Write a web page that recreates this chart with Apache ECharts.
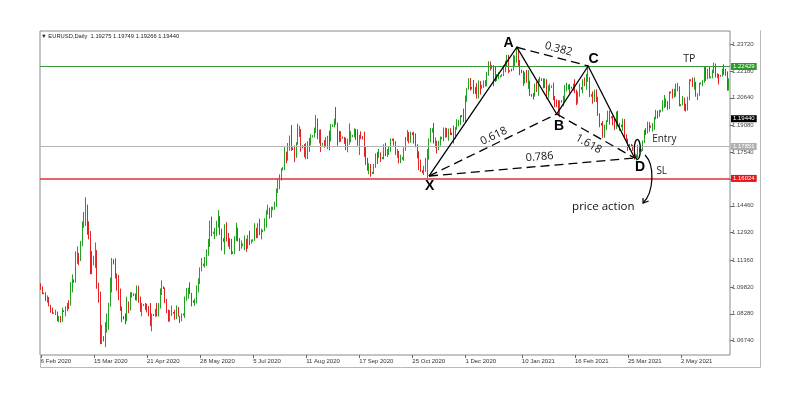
<!DOCTYPE html>
<html>
<head>
<meta charset="utf-8">
<script src="https://cdn.jsdelivr.net/npm/echarts/dist/echarts.min.js"></script>
<style>
  html, body { margin: 0; padding: 0; background: #ffffff; }
  #chart { width: 800px; height: 398px; }
</style>
</head>
<body>
<div id="chart"></div>
<script>
// ---------------- DATA ----------------
const symbolName = 'EURUSD';
const timeframe = 'Daily';
const headerValues = ['1.19275', '1.19749', '1.19266', '1.19440'];

// Daily bars (Sun–Fri) starting 6 Feb 2020
const firstBarDate = [2020, 1, 6];
const barCount = 416;

const xTickDates = ['6 Feb 2020', '15 Mar 2020', '21 Apr 2020', '28 May 2020', '5 Jul 2020', '11 Aug 2020',
  '17 Sep 2020', '25 Oct 2020', '1 Dec 2020', '10 Jan 2021', '16 Feb 2021', '25 Mar 2021', '2 May 2021'];
const yTickLabels = ['1.06740', '1.08280', '1.09820', '1.11360', '1.12920', '1.14460', '1.16000',
  '1.17540', '1.19080', '1.20640', '1.22180', '1.23720'];

const opens = [
 1.0996,1.0980,
 1.0942,1.0946,1.0910,1.0916,1.0874,1.0840,
 1.0830,1.0832,1.0835,1.0791,1.0806,1.0787,
 1.0845,1.0842,1.0852,1.0883,1.0881,1.0998,
 1.1020,1.1010,1.1136,1.1174,1.1135,1.1237,
 1.1330,1.1400,1.1450,1.1286,1.1270,1.1180,
 1.1110,1.1150,1.1175,1.0995,1.0915,1.0690,
 1.0695,1.0680,1.0720,1.0790,1.0885,1.1030,
 1.1135,1.1120,1.1045,1.1030,1.0965,1.0855,
 1.0810,1.0800,1.0790,1.0893,1.0860,1.0932,
 1.0940,1.0935,1.0914,1.0985,1.0905,1.0860,
 1.0875,1.0880,1.0863,1.0855,1.0822,1.0776,
 1.0818,1.0822,1.0826,1.0825,1.0874,1.0955,
 1.0982,1.0975,1.0905,1.0838,1.0795,1.0838,
 1.0835,1.0830,1.0807,1.0850,1.0818,1.0805,
 1.0822,1.0825,1.0920,1.0922,1.0975,1.0946,
 1.0900,1.0895,1.0898,1.0977,1.1009,1.1077,
 1.1105,1.1110,1.1135,1.1172,1.1236,1.1338,
 1.1288,1.1292,1.1295,1.1340,1.1370,1.1300,
 1.1255,1.1250,1.1335,1.1265,1.1245,1.1205,
 1.1175,1.1180,1.1258,1.1307,1.1252,1.1220,
 1.1220,1.1225,1.1243,1.1235,1.1251,1.1240,
 1.1245,1.1250,1.1310,1.1275,1.1330,1.1285,
 1.1300,1.1302,1.1340,1.1410,1.1410,1.1385,
 1.1425,1.1432,1.1445,1.1525,1.1570,1.1595,
 1.1650,1.1660,1.1750,1.1715,1.1790,1.1845,
 1.1775,1.1770,1.1760,1.1800,1.1860,1.1875,
 1.1788,1.1780,1.1738,1.1738,1.1785,1.1813,
 1.1840,1.1845,1.1870,1.1930,1.1835,1.1860,
 1.1795,1.1800,1.1790,1.1830,1.1832,1.1820,
 1.1902,1.1908,1.1935,1.1915,1.1855,1.1850,
 1.1838,1.1835,1.1815,1.1780,1.1800,1.1815,
 1.1842,1.1848,1.1865,1.1845,1.1815,1.1850,
 1.1840,1.1830,1.1770,1.1705,1.1660,1.1675,
 1.1632,1.1635,1.1665,1.1745,1.1720,1.1747,
 1.1718,1.1720,1.1785,1.1735,1.1760,1.1760,
 1.1825,1.1822,1.1813,1.1745,1.1747,1.1705,
 1.1715,1.1720,1.1770,1.1820,1.1860,1.1815,
 1.1860,1.1855,1.1810,1.1795,1.1745,1.1675,
 1.1645,1.1640,1.1642,1.1713,1.1722,1.1825,
 1.1870,1.1880,1.1815,1.1815,1.1775,1.1810,
 1.1830,1.1835,1.1855,1.1863,1.1850,1.1875,
 1.1860,1.1855,1.1840,1.1888,1.1915,1.1915,
 1.1962,1.1958,1.1925,1.2070,1.2112,1.2150,
 1.2122,1.2118,1.2110,1.2105,1.2078,1.2135,
 1.2120,1.2130,1.2145,1.2150,1.2195,1.2265,
 1.2245,1.2240,1.2235,1.2165,1.2185,1.2185,
 1.2190,1.2195,1.2215,1.2250,1.2295,1.2215,
 1.2225,1.2220,1.2250,1.2295,1.2325,1.2270,
 1.2222,1.2215,1.2150,1.2207,1.2155,1.2160,
 1.2082,1.2078,1.2077,1.2130,1.2105,1.2165,
 1.2170,1.2168,1.2140,1.2160,1.2110,1.2120,
 1.2128,1.2130,1.2060,1.2040,1.2035,1.1960,
 1.2045,1.2042,1.2050,1.2118,1.2120,1.2130,
 1.2120,1.2122,1.2125,1.2105,1.2040,1.2090,
 1.2120,1.2118,1.2155,1.2150,1.2165,1.2175,
 1.2075,1.2080,1.2050,1.2090,1.2060,1.1965,
 1.1915,1.1912,1.1845,1.1900,1.1930,1.1985,
 1.1950,1.1952,1.1930,1.1900,1.1980,1.1915,
 1.1905,1.1900,1.1935,1.1850,1.1815,1.1780,
 1.1795,1.1792,1.1765,1.1725,1.1728,1.1775,
 1.1762,1.1765,1.1813,1.1875,1.1870,1.1915,
 1.1900,1.1898,1.1910,1.1945,1.1980,1.1965,
 1.1985,1.1990,1.2035,1.2035,1.2035,1.2010,
 1.2095,1.2092,1.2085,1.2090,1.2125,1.2125,
 1.2020,1.2022,1.2060,1.2015,1.2005,1.2065,
 1.2165,1.2162,1.2130,1.2150,1.2075,1.2080,
 1.2145,1.2148,1.2155,1.2225,1.2175,1.2225,
 1.2180,1.2182,1.2215,1.2250,1.2190,1.2195,
 1.2192,1.2188,1.2225,1.2215,1.2210,1.2125
];

const closes = [
 1.0980,1.0944,
 1.0946,1.0910,1.0916,1.0874,1.0840,1.0830,
 1.0832,1.0835,1.0791,1.0806,1.0787,1.0848,
 1.0842,1.0852,1.0883,1.0881,1.0998,1.1026,
 1.1010,1.1136,1.1174,1.1135,1.1237,1.1284,
 1.1400,1.1450,1.1286,1.1270,1.1180,1.1105,
 1.1150,1.1175,1.0995,1.0915,1.0690,1.0695,
 1.0680,1.0720,1.0790,1.0885,1.1030,1.1140,
 1.1120,1.1045,1.1030,1.0965,1.0855,1.0807,
 1.0800,1.0790,1.0893,1.0860,1.0932,1.0940,
 1.0935,1.0914,1.0985,1.0905,1.0860,1.0875,
 1.0880,1.0863,1.0855,1.0822,1.0776,1.0818,
 1.0822,1.0826,1.0825,1.0874,1.0955,1.0980,
 1.0975,1.0905,1.0838,1.0795,1.0838,1.0839,
 1.0830,1.0807,1.0850,1.0818,1.0805,1.0820,
 1.0825,1.0920,1.0922,1.0975,1.0946,1.0900,
 1.0895,1.0898,1.0977,1.1009,1.1077,1.1100,
 1.1110,1.1135,1.1172,1.1236,1.1338,1.1290,
 1.1292,1.1295,1.1340,1.1370,1.1300,1.1255,
 1.1250,1.1335,1.1265,1.1245,1.1205,1.1175,
 1.1180,1.1258,1.1307,1.1252,1.1220,1.1220,
 1.1225,1.1243,1.1235,1.1251,1.1240,1.1245,
 1.1250,1.1310,1.1275,1.1330,1.1285,1.1300,
 1.1302,1.1340,1.1410,1.1410,1.1385,1.1430,
 1.1432,1.1445,1.1525,1.1570,1.1595,1.1655,
 1.1660,1.1750,1.1715,1.1790,1.1845,1.1780,
 1.1770,1.1760,1.1800,1.1860,1.1875,1.1785,
 1.1780,1.1738,1.1738,1.1785,1.1813,1.1842,
 1.1845,1.1870,1.1930,1.1835,1.1860,1.1795,
 1.1800,1.1790,1.1830,1.1832,1.1820,1.1905,
 1.1908,1.1935,1.1915,1.1855,1.1850,1.1838,
 1.1835,1.1815,1.1780,1.1800,1.1815,1.1845,
 1.1848,1.1865,1.1845,1.1815,1.1850,1.1835,
 1.1830,1.1770,1.1705,1.1660,1.1675,1.1630,
 1.1635,1.1665,1.1745,1.1720,1.1747,1.1715,
 1.1720,1.1785,1.1735,1.1760,1.1760,1.1825,
 1.1822,1.1813,1.1745,1.1747,1.1705,1.1718,
 1.1720,1.1770,1.1820,1.1860,1.1815,1.1860,
 1.1855,1.1810,1.1795,1.1745,1.1675,1.1647,
 1.1640,1.1642,1.1713,1.1722,1.1825,1.1875,
 1.1880,1.1815,1.1815,1.1775,1.1810,1.1833,
 1.1835,1.1855,1.1863,1.1850,1.1875,1.1857,
 1.1855,1.1840,1.1888,1.1915,1.1915,1.1960,
 1.1958,1.1925,1.2070,1.2112,1.2150,1.2120,
 1.2118,1.2110,1.2105,1.2078,1.2135,1.2110,
 1.2130,1.2145,1.2150,1.2195,1.2265,1.2255,
 1.2240,1.2235,1.2165,1.2185,1.2185,1.2188,
 1.2195,1.2215,1.2250,1.2295,1.2215,1.2218,
 1.2220,1.2250,1.2295,1.2325,1.2270,1.2220,
 1.2215,1.2150,1.2207,1.2155,1.2160,1.2080,
 1.2078,1.2077,1.2130,1.2105,1.2165,1.2170,
 1.2168,1.2140,1.2160,1.2110,1.2120,1.2135,
 1.2130,1.2060,1.2040,1.2035,1.1960,1.2045,
 1.2042,1.2050,1.2118,1.2120,1.2130,1.2120,
 1.2122,1.2125,1.2105,1.2040,1.2090,1.2120,
 1.2118,1.2155,1.2150,1.2165,1.2175,1.2075,
 1.2080,1.2050,1.2090,1.2060,1.1965,1.1915,
 1.1912,1.1845,1.1900,1.1930,1.1985,1.1950,
 1.1952,1.1930,1.1900,1.1980,1.1915,1.1905,
 1.1900,1.1935,1.1850,1.1815,1.1780,1.1795,
 1.1792,1.1765,1.1725,1.1728,1.1775,1.1762,
 1.1765,1.1813,1.1875,1.1870,1.1915,1.1900,
 1.1898,1.1910,1.1945,1.1980,1.1965,1.1985,
 1.1990,1.2035,1.2035,1.2035,1.2010,1.2095,
 1.2092,1.2085,1.2090,1.2125,1.2125,1.2020,
 1.2022,1.2060,1.2015,1.2005,1.2065,1.2165,
 1.2162,1.2130,1.2150,1.2075,1.2080,1.2145,
 1.2148,1.2155,1.2225,1.2175,1.2225,1.2180,
 1.2182,1.2215,1.2250,1.2190,1.2195,1.2190,
 1.2188,1.2225,1.2215,1.2210,1.2125,1.2165
];

const highs = [
 1.1003,1.0985,
 1.0950,1.0951,1.0933,1.0924,1.0880,1.0863,
 1.0836,1.0851,1.0840,1.0816,1.0816,1.0863,
 1.0848,1.0870,1.0890,1.0905,1.1010,1.1053,
 1.1025,1.1185,1.1214,1.1176,1.1245,1.1356,
 1.1410,1.1495,1.1452,1.1357,1.1301,1.1187,
 1.1160,1.1236,1.1192,1.1006,1.0955,1.0765,
 1.0700,1.0780,1.0830,1.0891,1.1035,1.1147,
 1.1140,1.1145,1.1059,1.1050,1.0972,1.0870,
 1.0815,1.0830,1.0925,1.0898,1.0951,1.0952,
 1.0945,1.0944,1.0990,1.0988,1.0926,1.0890,
 1.0884,1.0889,1.0886,1.0872,1.0890,1.0829,
 1.0826,1.0857,1.0890,1.0889,1.0973,1.1019,
 1.0985,1.0978,1.0913,1.0852,1.0849,1.0875,
 1.0838,1.0851,1.0875,1.0867,1.0816,1.0830,
 1.0830,1.0927,1.0975,1.0977,1.1008,1.0947,
 1.0905,1.0915,1.0990,1.1031,1.1093,1.1147,
 1.1115,1.1153,1.1197,1.1257,1.1361,1.1384,
 1.1298,1.1320,1.1360,1.1422,1.1387,1.1315,
 1.1260,1.1340,1.1352,1.1290,1.1260,1.1257,
 1.1185,1.1272,1.1349,1.1321,1.1261,1.1247,
 1.1230,1.1276,1.1257,1.1278,1.1303,1.1252,
 1.1255,1.1346,1.1320,1.1346,1.1372,1.1315,
 1.1308,1.1375,1.1420,1.1452,1.1435,1.1441,
 1.1440,1.1469,1.1545,1.1601,1.1626,1.1660,
 1.1668,1.1781,1.1755,1.1805,1.1848,1.1908,
 1.1780,1.1790,1.1810,1.1916,1.1904,1.1885,
 1.1792,1.1799,1.1805,1.1815,1.1835,1.1855,
 1.1850,1.1893,1.1966,1.1946,1.1882,1.1883,
 1.1806,1.1822,1.1839,1.1846,1.1876,1.1914,
 1.1912,1.1945,1.2011,1.1922,1.1875,1.1872,
 1.1842,1.1840,1.1835,1.1830,1.1917,1.1873,
 1.1852,1.1889,1.1886,1.1883,1.1852,1.1872,
 1.1845,1.1870,1.1785,1.1720,1.1689,1.1685,
 1.1640,1.1685,1.1746,1.1755,1.1771,1.1752,
 1.1725,1.1797,1.1806,1.1771,1.1785,1.1831,
 1.1830,1.1830,1.1815,1.1770,1.1760,1.1738,
 1.1725,1.1780,1.1840,1.1880,1.1868,1.1870,
 1.1865,1.1870,1.1860,1.1798,1.1758,1.1710,
 1.1650,1.1675,1.1720,1.1770,1.1831,1.1890,
 1.1890,1.1920,1.1837,1.1818,1.1818,1.1843,
 1.1840,1.1894,1.1893,1.1890,1.1888,1.1890,
 1.1865,1.1905,1.1897,1.1941,1.1938,1.1965,
 1.1965,1.2002,1.2077,1.2120,1.2176,1.2177,
 1.2126,1.2166,1.2125,1.2148,1.2163,1.2160,
 1.2138,1.2163,1.2166,1.2213,1.2273,1.2272,
 1.2250,1.2250,1.2246,1.2200,1.2210,1.2192,
 1.2200,1.2250,1.2276,1.2310,1.2310,1.2222,
 1.2230,1.2310,1.2305,1.2349,1.2340,1.2280,
 1.2225,1.2219,1.2210,1.2223,1.2222,1.2162,
 1.2085,1.2091,1.2145,1.2155,1.2172,1.2185,
 1.2175,1.2175,1.2175,1.2170,1.2135,1.2145,
 1.2135,1.2150,1.2075,1.2055,1.2050,1.2050,
 1.2050,1.2075,1.2138,1.2150,1.2140,1.2142,
 1.2128,1.2145,1.2170,1.2110,1.2100,1.2145,
 1.2125,1.2170,1.2180,1.2200,1.2243,1.2182,
 1.2085,1.2100,1.2110,1.2113,1.2070,1.1975,
 1.1920,1.1930,1.1910,1.1935,1.1990,1.1990,
 1.1958,1.1960,1.1950,1.1985,1.1990,1.1920,
 1.1910,1.1945,1.1942,1.1855,1.1830,1.1800,
 1.1800,1.1795,1.1770,1.1740,1.1795,1.1780,
 1.1770,1.1820,1.1880,1.1890,1.1927,1.1925,
 1.1905,1.1920,1.1955,1.1995,1.1990,1.1995,
 1.1995,1.2050,1.2080,1.2060,1.2045,1.2100,
 1.2100,1.2115,1.2115,1.2145,1.2150,1.2130,
 1.2028,1.2075,1.2065,1.2030,1.2070,1.2170,
 1.2170,1.2180,1.2180,1.2155,1.2090,1.2150,
 1.2152,1.2165,1.2245,1.2245,1.2230,1.2240,
 1.2186,1.2225,1.2266,1.2260,1.2205,1.2200,
 1.2195,1.2230,1.2255,1.2230,1.2215,1.2175
];

const lows = [
 1.0965,1.0940,
 1.0940,1.0901,1.0891,1.0870,1.0834,1.0827,
 1.0828,1.0821,1.0785,1.0780,1.0778,1.0782,
 1.0838,1.0813,1.0842,1.0855,1.0875,1.0950,
 1.1005,1.1006,1.1114,1.1105,1.1130,1.1215,
 1.1320,1.1330,1.1280,1.1254,1.1053,1.1055,
 1.1105,1.1090,1.0971,1.0892,1.0654,1.0655,
 1.0670,1.0636,1.0720,1.0736,1.0868,1.0950,
 1.1110,1.1030,1.0960,1.0905,1.0845,1.0780,
 1.0795,1.0768,1.0785,1.0831,1.0847,1.0920,
 1.0930,1.0905,1.0902,1.0891,1.0839,1.0813,
 1.0872,1.0850,1.0836,1.0814,1.0757,1.0727,
 1.0815,1.0810,1.0812,1.0812,1.0858,1.0935,
 1.0970,1.0889,1.0831,1.0782,1.0783,1.0815,
 1.0828,1.0794,1.0797,1.0812,1.0775,1.0785,
 1.0818,1.0804,1.0902,1.0914,1.0940,1.0870,
 1.0890,1.0873,1.0887,1.0950,1.0998,1.1070,
 1.1100,1.1093,1.1102,1.1160,1.1210,1.1272,
 1.1285,1.1255,1.1272,1.1320,1.1279,1.1190,
 1.1240,1.1168,1.1242,1.1212,1.1198,1.1168,
 1.1170,1.1169,1.1245,1.1242,1.1187,1.1200,
 1.1215,1.1192,1.1182,1.1200,1.1220,1.1230,
 1.1240,1.1245,1.1260,1.1262,1.1278,1.1254,
 1.1295,1.1300,1.1320,1.1395,1.1372,1.1378,
 1.1420,1.1422,1.1440,1.1519,1.1540,1.1590,
 1.1648,1.1650,1.1689,1.1704,1.1761,1.1760,
 1.1765,1.1696,1.1720,1.1795,1.1840,1.1755,
 1.1775,1.1724,1.1712,1.1713,1.1754,1.1792,
 1.1836,1.1836,1.1863,1.1827,1.1803,1.1753,
 1.1790,1.1778,1.1783,1.1770,1.1763,1.1814,
 1.1898,1.1895,1.1910,1.1789,1.1810,1.1812,
 1.1830,1.1800,1.1765,1.1752,1.1795,1.1810,
 1.1838,1.1837,1.1822,1.1790,1.1737,1.1827,
 1.1825,1.1726,1.1680,1.1647,1.1626,1.1612,
 1.1628,1.1628,1.1663,1.1685,1.1720,1.1696,
 1.1712,1.1712,1.1730,1.1725,1.1737,1.1755,
 1.1818,1.1790,1.1737,1.1720,1.1688,1.1690,
 1.1710,1.1703,1.1760,1.1815,1.1803,1.1807,
 1.1850,1.1802,1.1780,1.1717,1.1650,1.1640,
 1.1632,1.1622,1.1640,1.1603,1.1710,1.1809,
 1.1865,1.1802,1.1778,1.1745,1.1764,1.1790,
 1.1826,1.1815,1.1835,1.1838,1.1818,1.1850,
 1.1850,1.1802,1.1828,1.1880,1.1900,1.1908,
 1.1952,1.1924,1.1922,1.2040,1.2110,1.2105,
 1.2112,1.2086,1.2085,1.2059,1.2060,1.2082,
 1.2115,1.2120,1.2128,1.2130,1.2190,1.2220,
 1.2230,1.2130,1.2155,1.2160,1.2170,1.2180,
 1.2185,1.2188,1.2210,1.2240,1.2205,1.2212,
 1.2215,1.2220,1.2240,1.2265,1.2245,1.2193,
 1.2205,1.2132,1.2145,1.2150,1.2115,1.2074,
 1.2070,1.2054,1.2070,1.2097,1.2075,1.2151,
 1.2160,1.2118,1.2120,1.2058,1.2060,1.2100,
 1.2120,1.2050,1.2010,1.2010,1.1960,1.1952,
 1.2036,1.2015,1.2045,1.2100,1.2110,1.2090,
 1.2115,1.2105,1.2090,1.2022,1.2030,1.2070,
 1.2110,1.2090,1.2130,1.2110,1.2155,1.2068,
 1.2070,1.2030,1.2040,1.2040,1.1960,1.1895,
 1.1905,1.1835,1.1835,1.1880,1.1925,1.1910,
 1.1945,1.1905,1.1880,1.1885,1.1900,1.1875,
 1.1895,1.1875,1.1840,1.1810,1.1760,1.1765,
 1.1785,1.1760,1.1710,1.1704,1.1720,1.1750,
 1.1755,1.1760,1.1805,1.1850,1.1860,1.1870,
 1.1892,1.1870,1.1880,1.1940,1.1945,1.1955,
 1.1980,1.1985,1.2005,1.2010,1.1995,1.2000,
 1.2088,1.2060,1.2065,1.2070,1.2100,1.2015,
 1.2015,1.2020,1.1990,1.1985,1.1990,1.2050,
 1.2158,1.2125,1.2110,1.2070,1.2050,1.2075,
 1.2140,1.2130,1.2150,1.2160,1.2170,1.2175,
 1.2175,1.2175,1.2205,1.2180,1.2175,1.2140,
 1.2185,1.2185,1.2195,1.2190,1.2105,1.2105
];

// Harmonic pattern points (date, price)
const patternNames = ['X', 'A', 'B', 'C', 'D'];
const patternDates = ['5 Nov 2020', '6 Jan 2021', '3 Feb 2021', '25 Feb 2021', '30 Mar 2021'];
const patternPrices = [1.1616, 1.2353, 1.1971, 1.2246, 1.1719];
const ratioLegs = [['A', 'C'], ['X', 'B'], ['B', 'D'], ['X', 'D']];
const ratioLabels = ['0.382', '0.618', '1.618', '0.786'];

// Horizontal levels
const levelNames = ['TP', 'Entry', 'SL'];
const levelPrices = [1.22429, 1.17851, 1.16024];
const currentPrice = Number(headerValues[3]);
const noteText = 'price action';

// ---------------- BUILD ----------------
const MONTHS = ['Jan','Feb','Mar','Apr','May','Jun','Jul','Aug','Sep','Oct','Nov','Dec'];
const categories = [];
for (let t = Date.UTC(firstBarDate[0], firstBarDate[1], firstBarDate[2]); categories.length < barCount; t += 86400000) {
  const d = new Date(t);
  if (d.getUTCDay() === 6) continue;
  categories.push(d.getUTCDate() + ' ' + MONTHS[d.getUTCMonth()] + ' ' + d.getUTCFullYear());
}
const candleData = categories.map((_, i) => [opens[i], closes[i], lows[i], highs[i]]);

const BULL = '#22a022', BEAR = '#e02424';
const levelStyles = [
  { line: '#3a9a3a', tag: '#2a9a2a', width: 1 },
  { line: '#b4b4b4', tag: '#b0b0b0', width: 1 },
  { line: '#e23030', tag: '#e8141c', width: 1.5 }
];
const legLabelOffsets = [[3.9, 8.8], [4.8, 7.6], [-2.2, -10.4], [8.7, 9.4]];
const letterOffsets = { X: [0.7, 9.7], A: [-8.4, -4], B: [2.3, 12], C: [5.4, -6.8], D: [5.5, 9.3] };
const levelLabelDx = [54.7, 29.7, 27.1];
const levelLabelSize = [10.5, 10, 10];
const isTick = (idx, val) => xTickDates.indexOf(val) >= 0;

const chart = echarts.init(document.getElementById('chart'), null, { renderer: 'canvas' });

const markLineData = levelPrices.map((p, k) => ({
  yAxis: p,
  lineStyle: { color: levelStyles[k].line, width: levelStyles[k].width, type: 'solid' },
  label: { backgroundColor: levelStyles[k].tag }
}));
markLineData.splice(1, 0, {
  yAxis: currentPrice,
  lineStyle: { color: 'rgba(0,0,0,0)', width: 0 },
  label: { backgroundColor: '#000000' }
});

const option = {
  animation: false,
  backgroundColor: '#ffffff',
  title: {
    text: '\u25BC ' + symbolName + ',' + timeframe + '  ' + headerValues.join(' '),
    left: 41, top: 33, padding: 0,
    textStyle: { fontSize: 5.8, fontWeight: 'normal', color: '#222', fontFamily: 'Liberation Sans' }
  },
  grid: {
    left: 40, right: 70, top: 31, bottom: 43,
    show: true, borderColor: '#8a8a8a', borderWidth: 1, backgroundColor: '#ffffff'
  },
  graphic: [
    { type: 'polyline', silent: true, shape: { points: [[760.5, 30.5], [760.5, 367.5], [40.5, 367.5], [40.5, 355]] },
      style: { stroke: '#b8b8b8', lineWidth: 1, fill: null } }
  ],
  xAxis: {
    type: 'category',
    data: categories,
    boundaryGap: true,
    axisLine: { show: false },
    axisTick: { show: true, alignWithLabel: true, interval: isTick, length: 3, lineStyle: { color: '#666' } },
    axisLabel: { interval: isTick, fontSize: 6, color: '#333', align: 'left', margin: 3, fontFamily: 'Liberation Sans' },
    splitLine: { show: false }
  },
  yAxis: {
    type: 'value',
    position: 'right',
    min: 1.0592, max: 1.2446,
    axisLine: { show: false },
    axisTick: { show: true, length: 3, customValues: yTickLabels.map(Number), lineStyle: { color: '#666' } },
    axisLabel: {
      customValues: yTickLabels.map(Number),
      formatter: v => Number(v).toFixed(5),
      fontSize: 6, color: '#444', margin: 2, fontFamily: 'Liberation Sans'
    },
    splitLine: { show: false }
  },
  series: [
    {
      type: 'candlestick',
      data: candleData,
      barWidth: 1.2,
      itemStyle: { color: BULL, color0: BEAR, borderColor: BULL, borderColor0: BEAR, borderWidth: 1 },
      markLine: {
        silent: true, symbol: 'none', animation: false, precision: 5,
        label: {
          position: 'end', distance: 1, color: '#ffffff', fontSize: 6, padding: [1, 2, 0, 2],
          fontFamily: 'Liberation Sans',
          formatter: p => Number(p.value).toFixed(5)
        },
        data: markLineData
      }
    },
    {
      type: 'custom',
      coordinateSystem: 'cartesian2d',
      data: [[0, currentPrice]],
      z: 10,
      silent: true,
      clip: false,
      renderItem: function (params, api) {
        const P = {};
        patternNames.forEach((n, k) => {
          P[n] = api.coord([categories.indexOf(patternDates[k]), patternPrices[k]]);
        });
        const kids = [];
        kids.push({ type: 'polyline', shape: { points: patternNames.map(n => P[n]) },
          style: { stroke: '#000', lineWidth: 1.3, fill: null } });
        ratioLegs.forEach((leg, k) => {
          const a = P[leg[0]], b = P[leg[1]];
          kids.push({ type: 'line', shape: { x1: a[0], y1: a[1], x2: b[0], y2: b[1] },
            style: { stroke: '#000', lineWidth: 1.3, lineDash: [9, 5] } });
          const dx = b[0] - a[0], dy = b[1] - a[1], len = Math.hypot(dx, dy);
          const ux = dx / len, uy = dy / len, nx = uy, ny = -ux;
          const o = legLabelOffsets[k];
          kids.push({
            type: 'text',
            x: (a[0] + b[0]) / 2 + ux * o[0] + nx * o[1],
            y: (a[1] + b[1]) / 2 + uy * o[0] + ny * o[1],
            rotation: -Math.atan2(dy, dx),
            style: { text: ratioLabels[k], fontSize: 11, fontFamily: 'Open Sans', fill: '#111',
              align: 'center', verticalAlign: 'middle' }
          });
        });
        patternNames.forEach(n => {
          const o = letterOffsets[n];
          kids.push({ type: 'text', x: P[n][0] + o[0], y: P[n][1] + o[1],
            style: { text: n, fontSize: 14, fontWeight: 'bold', fontFamily: 'Liberation Sans', fill: '#000',
              align: 'center', verticalAlign: 'middle' } });
        });
        const D = P.D;
        kids.push({ type: 'ellipse', shape: { cx: D[0] + 2.7, cy: D[1] - 8.7, rx: 3, ry: 10 },
          style: { stroke: '#000', lineWidth: 1.2, fill: null } });
        const E = [D[0] + 8.4, D[1] + 45];
        kids.push({ type: 'bezierCurve',
          shape: { x1: D[0] + 10.4, y1: D[1] - 3, cpx1: D[0] + 20.4, cpy1: D[1] + 7,
                   cpx2: D[0] + 19.4, cpy2: D[1] + 34, x2: E[0], y2: E[1] },
          style: { stroke: '#000', lineWidth: 1.2, fill: null } });
        kids.push({ type: 'polyline', shape: { points: [[E[0], E[1] - 5], E, [E[0] + 5.6, E[1] - 2]] },
          style: { stroke: '#000', lineWidth: 1.2, fill: null } });
        kids.push({ type: 'text', x: D[0] - 31.3, y: D[1] + 48.7,
          style: { text: noteText, fontSize: 11.5, fontFamily: 'Open Sans', fill: '#111',
            align: 'center', verticalAlign: 'middle' } });
        levelNames.forEach((name, k) => {
          const p = api.coord([0, levelPrices[k]]);
          kids.push({ type: 'text', x: D[0] + levelLabelDx[k], y: p[1] - 7.2,
            style: { text: name, fontSize: levelLabelSize[k], fontFamily: 'Open Sans', fill: '#222',
              align: 'center', verticalAlign: 'middle' } });
        });
        return { type: 'group', children: kids };
      }
    }
  ]
};
chart.setOption(option);
</script>
</body>
</html>
